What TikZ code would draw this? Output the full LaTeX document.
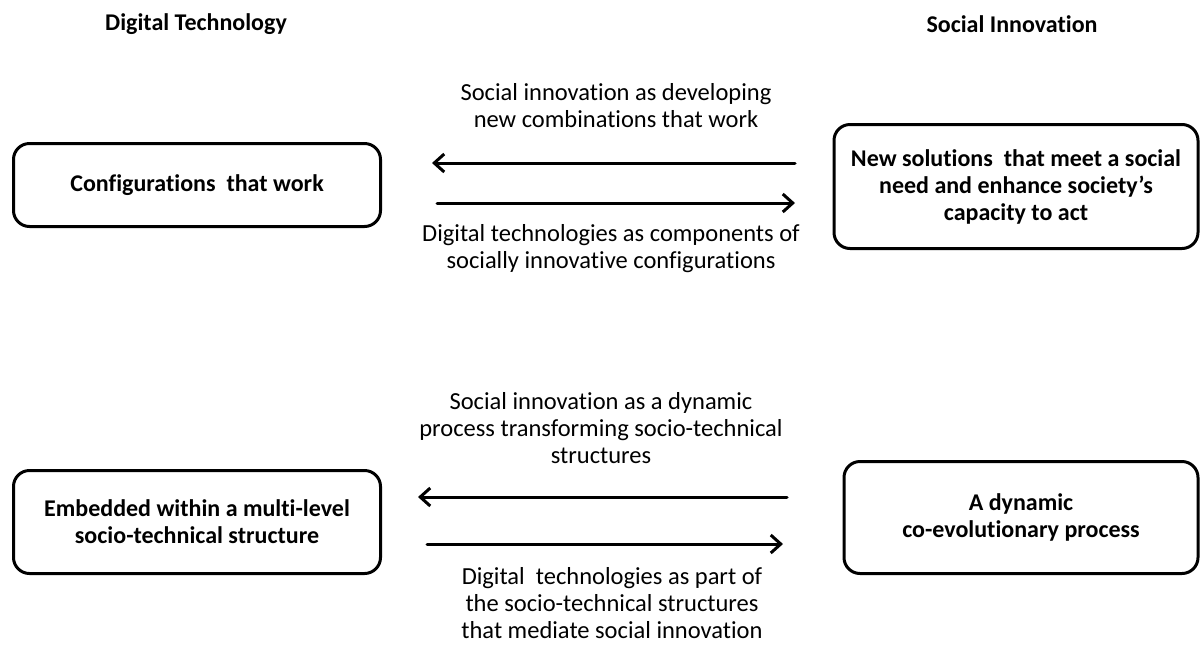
\documentclass[tikz,border=0pt]{standalone}
\usepackage{fontspec}
\setmainfont{Carlito}[Ligatures=NoCommon]
\usetikzlibrary{arrows.meta}
\begin{document}
\begin{tikzpicture}[x=1pt,y=-1pt,
  font=\fontsize{24.5}{27}\selectfont,
  box/.style={draw, line width=3pt, rounded corners=16pt, align=center,
    font=\fontsize{24}{27}\selectfont\bfseries, inner sep=0pt},
  title/.style={font=\fontsize{24}{27}\selectfont\bfseries},
  flow/.style={line width=3pt, line cap=round,
    -{Straight Barb[length=10pt,width=18pt,line width=3pt]}},
  lbl/.style={align=center}]
\useasboundingbox (0,0) rectangle (1203,649);

% column headings
\node[title] (hdt) at (196,24) {Digital Technology};
\node[title] (hsi) at (1012,24) {Social Innovation};

% upper pair of boxes
\node[box, minimum width=367pt, minimum height=83pt] (cfg) at (197,185)
  {Configurations\ \ that work};
\node[box, minimum width=364pt, minimum height=124pt] (sol) at (1016,186.5)
  {New solutions\ \ that meet a social\\need and enhance society’s\\capacity to act};

% lower pair of boxes
\node[box, minimum width=367pt, minimum height=103pt] (emb) at (197,522)
  {Embedded within a multi-level\\socio-technical structure};
\node[box, minimum width=354pt, minimum height=112pt] (dyn) at (1021,517.5)
  {A dynamic\\co-evolutionary process};

% arrow end points
\coordinate (a1s) at (795,163); \coordinate (a1e) at (432,163);
\coordinate (a2s) at (437,203); \coordinate (a2e) at (795,203);
\coordinate (a3s) at (787,497); \coordinate (a3e) at (418,497);
\coordinate (a4s) at (427,544); \coordinate (a4e) at (783,544);

\draw[flow] (a1s) -- (a1e);
\draw[flow] (a2s) -- (a2e);
\draw[flow] (a3s) -- (a3e);
\draw[flow] (a4s) -- (a4e);

% arrow labels
\node[lbl] (l1) at (616,106)
  {Social innovation as developing\\new combinations that work};
\node[lbl] (l2) at (611,248.5)
  {Digital technologies as components of\\socially innovative configurations};
\node[lbl] (l3) at (601,428)
  {Social innovation as a dynamic\\process transforming socio-technical\\structures};
\node[lbl] (l4) at (612,603)
  {Digital\ \ technologies as part of\\the socio-technical structures\\that mediate social innovation};
\end{tikzpicture}
\end{document}
